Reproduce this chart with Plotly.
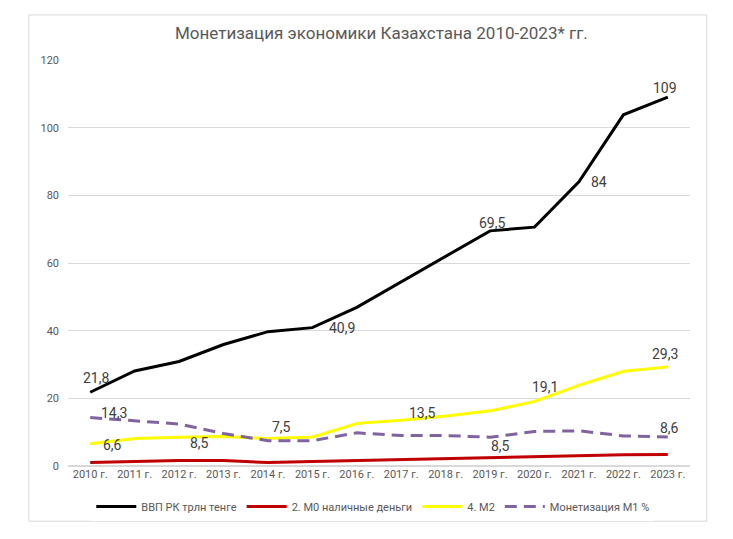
## Monetization of Kazakhstan economy 2010-2023, line chart

import plotly.graph_objects as go

# Data
years = ['2010 г.', '2011 г.', '2012 г.', '2013 г.', '2014 г.', '2015 г.', '2016 г.',
         '2017 г.', '2018 г.', '2019 г.', '2020 г.', '2021 г.', '2022 г.', '2023 г.']
gdp = [21.8, 28.1, 30.9, 35.9, 39.7, 40.9, 46.9, 54.4, 61.8, 69.5, 70.6, 84, 103.8, 109]
m0 = [1.0, 1.3, 1.6, 1.6, 1.0, 1.3, 1.6, 1.9, 2.2, 2.3, 2.8, 3.0, 3.3, 3.4]
m2 = [6.6, 8.1, 8.5, 8.7, 8.1, 8.6, 12.6, 13.5, 14.8, 16.3, 19.1, 23.9, 28.0, 29.3]
m1_pct = [14.3, 13.4, 12.4, 9.6, 7.5, 7.5, 9.8, 9.0, 9.0, 8.5, 10.2, 10.4, 8.9, 8.6]

# which points carry a value label: (series, index, xshift, yshift)
label_points = [
    (gdp, 0, 6, 14), (gdp, 5, 30, 0), (gdp, 9, 2, 8), (gdp, 11, 20, 0), (gdp, 13, -3, 9),
    (m2, 0, 22, -1), (m2, 2, 20, -6), (m2, 7, 21, 7), (m2, 10, 10, 14), (m2, 13, -3, 13),
    (m1_pct, 0, 24, 5), (m1_pct, 4, 14, 14), (m1_pct, 9, 10, -9), (m1_pct, 13, 2, 9),
]

font_family = 'Roboto, Arial'

fig = go.Figure()
fig.add_trace(go.Scatter(x=years, y=gdp, mode='lines', name='ВВП РК трлн тенге',
                         line=dict(color='black', width=3)))
fig.add_trace(go.Scatter(x=years, y=m0, mode='lines', name='2. М0 наличные деньги',
                         line=dict(color='#C00000', width=3)))
fig.add_trace(go.Scatter(x=years, y=m2, mode='lines', name='4. М2',
                         line=dict(color='#FFFF00', width=3)))
fig.add_trace(go.Scatter(x=years, y=m1_pct, mode='lines', name='Монетизация М1 %',
                         line=dict(color='#8064A2', width=3, dash='12px,7px')))

for series, i, dx, dy in label_points:
    fig.add_annotation(x=years[i], y=series[i], text=str(series[i]).replace('.', ','),
                       showarrow=False, xshift=dx, yshift=dy,
                       font=dict(size=14, color='#404040', family=font_family))

# outer chart border
fig.add_shape(type='rect', xref='paper', yref='paper',
              x0=-0.063, x1=1.027, y0=-0.136, y1=1.111,
              line=dict(color='#D9D9D9', width=1))

fig.update_layout(
    width=725, height=531,
    margin=dict(l=60, r=43, t=52, b=73),
    plot_bgcolor='white', paper_bgcolor='white',
    font=dict(family=font_family, color='#595959'),
    title=dict(text='Монетизация экономики Казахстана 2010-2023* гг.',
               x=0.515, xanchor='center', y=0.952, yanchor='middle',
               font=dict(size=17, color='#595959')),
    showlegend=True,
    legend=dict(orientation='h', x=0.49, xanchor='center', y=-0.1, yanchor='middle',
                font=dict(size=11, color='#595959'), itemwidth=40),
    xaxis=dict(type='category', range=[-0.5, 13.5], showgrid=False, showline=False,
               ticks='', tickfont=dict(size=11, color='#595959')),
    yaxis=dict(range=[0, 120], dtick=20, showgrid=True, gridcolor='#D9D9D9',
               zeroline=True, zerolinecolor='#D9D9D9', showline=False,
               tickfont=dict(size=11, color='#595959'), ticklabelstandoff=8),
)

fig.write_html("out.html")
